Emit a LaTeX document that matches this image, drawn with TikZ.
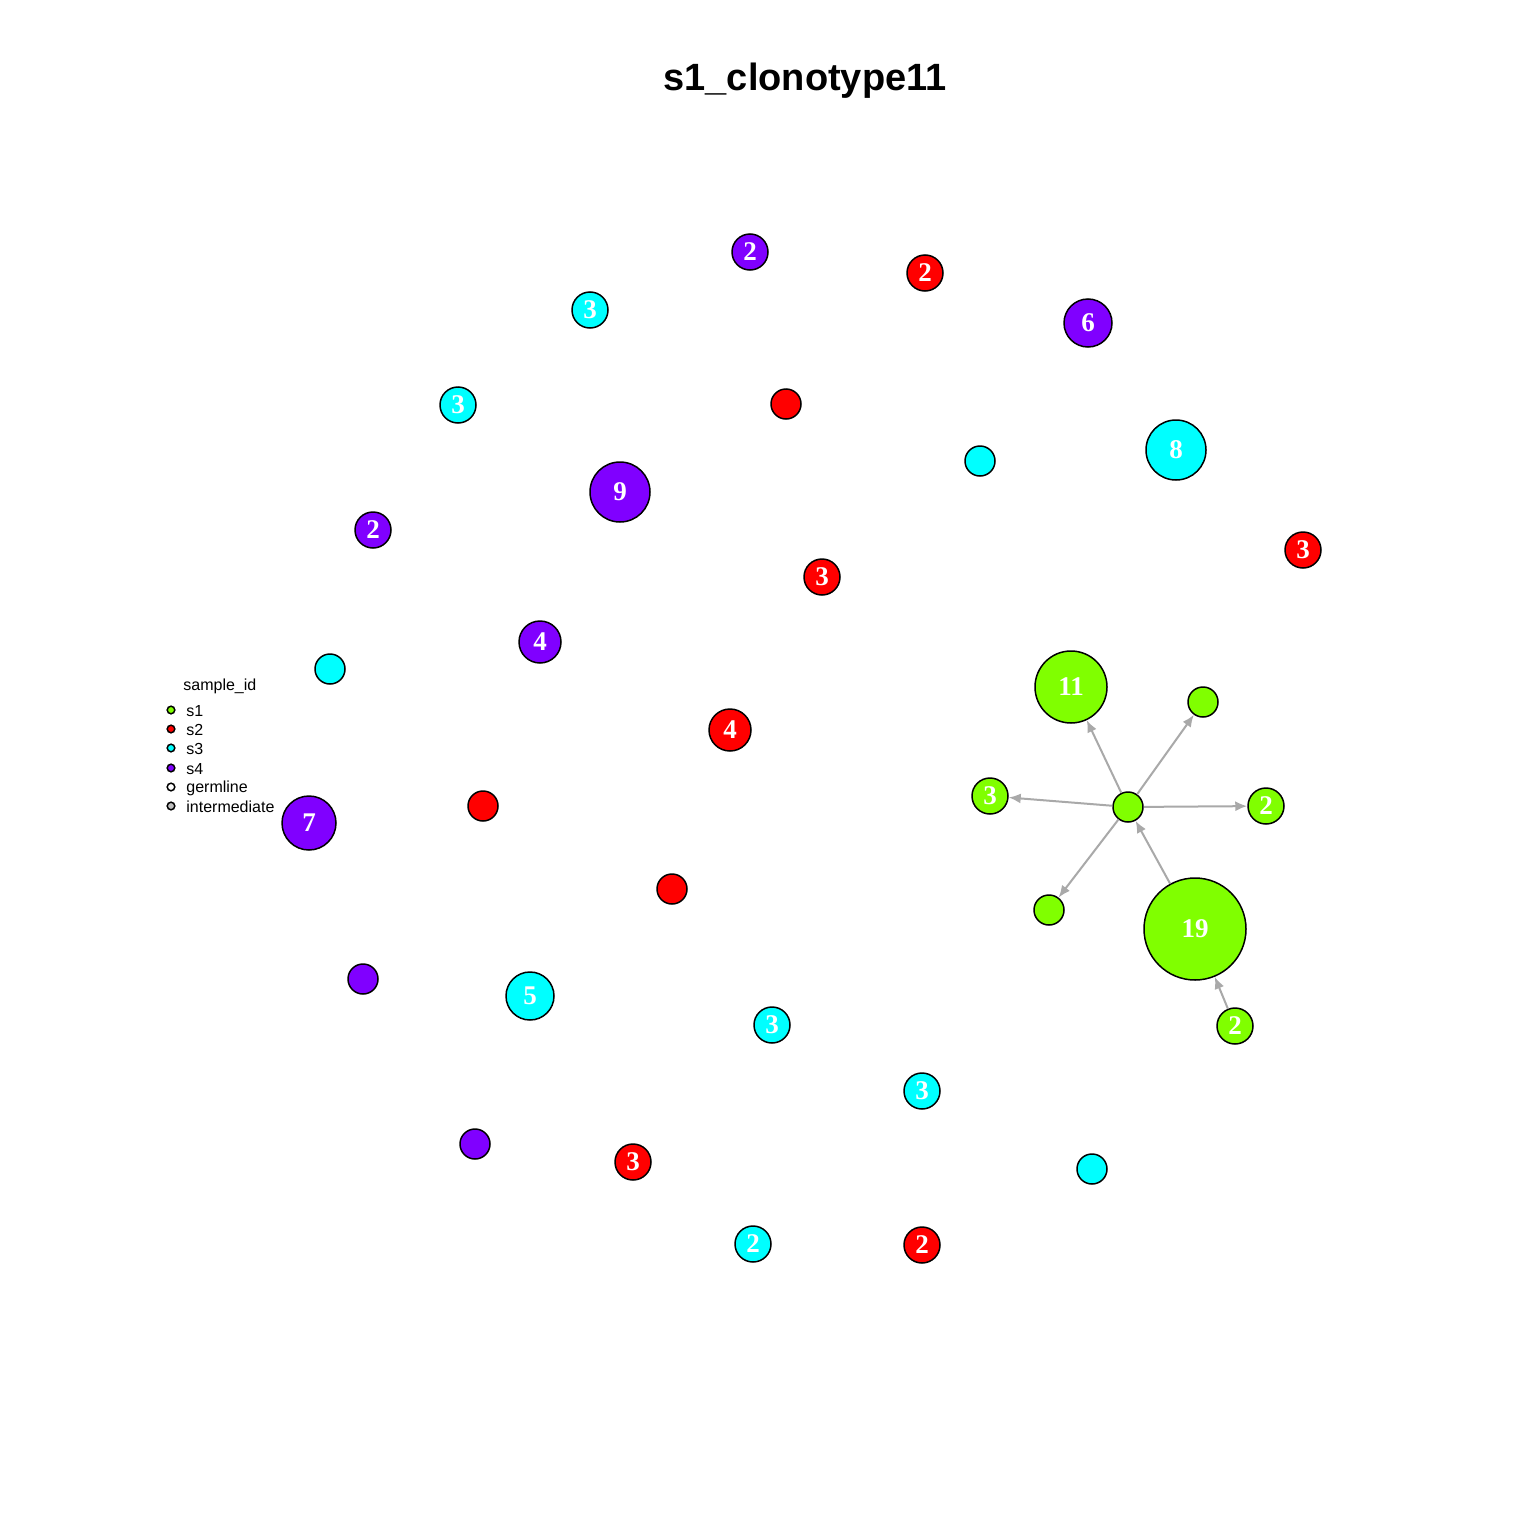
\documentclass[tikz,border=0pt]{standalone}
\usepackage{fontspec}
\setmainfont{Liberation Serif}
\newfontfamily\arialfont{Liberation Sans}
\usetikzlibrary{arrows.meta}
\definecolor{cloneA}{HTML}{80FF00}
\definecolor{cloneB}{HTML}{FF0000}
\definecolor{cloneC}{HTML}{00FFFF}
\definecolor{cloneD}{HTML}{8000FF}
\definecolor{edgegrey}{HTML}{A9A9A9}
\definecolor{midgrey}{HTML}{BEBEBE}
\begin{document}
\begin{tikzpicture}[x=0.5pt,y=-0.5pt,
  vtx/.style={circle,draw=black,line width=0.75pt,inner sep=0pt,text=white,
    font=\fontsize{13.5}{13.5}\selectfont\bfseries},
  sa/.style={vtx,fill=cloneA},
  sb/.style={vtx,fill=cloneB},
  sc/.style={vtx,fill=cloneC},
  sd/.style={vtx,fill=cloneD},
  link/.style={draw=edgegrey,line width=1pt,-{Latex[length=6pt,width=5pt]}},
  key/.style={circle,draw=black,line width=0.75pt,inner sep=0pt,minimum size=3.8pt},
  keytext/.style={anchor=west,inner sep=0pt,font=\arialfont\fontsize{8}{8}\selectfont}]
  \useasboundingbox[fill=white] (0,0) rectangle (1536,1536);
  % title
  \node[font=\arialfont\fontsize{19}{19}\selectfont\bfseries] (title) at (805,81) {s1\_clonotype11};
  % s1 cluster
  \node[sa,minimum size=15pt] (hub) at (1128,807) {};
  \node[sa,minimum size=36pt] (g11) at (1071,687) {11};
  \node[sa,minimum size=15pt] (gup) at (1203,702) {};
  \node[sa,minimum size=18pt] (g3) at (990,796) {3};
  \node[sa,minimum size=18pt] (g2r) at (1266,806) {2};
  \node[sa,minimum size=15pt] (glow) at (1049,910) {};
  \node[sa,minimum size=51pt] (g19) at (1195,929) {19};
  \node[sa,minimum size=18pt] (g2b) at (1235,1026) {2};
  \draw[link] (hub) -- (g11);
  \draw[link] (hub) -- (gup);
  \draw[link] (hub) -- (g3);
  \draw[link] (hub) -- (g2r);
  \draw[link] (hub) -- (glow);
  \draw[link] (g19) -- (hub);
  \draw[link] (g2b) -- (g19);
  % s2
  \node[sb,minimum size=18pt] (r1) at (925,273) {2};
  \node[sb,minimum size=15pt] (r2) at (786,404) {};
  \node[sb,minimum size=18pt] (r3) at (822,577) {3};
  \node[sb,minimum size=18pt] (r4) at (1303,550) {3};
  \node[sb,minimum size=21pt] (r5) at (730,730) {4};
  \node[sb,minimum size=15pt] (r6) at (483,806) {};
  \node[sb,minimum size=15pt] (r7) at (672,889) {};
  \node[sb,minimum size=18pt] (r8) at (633,1162) {3};
  \node[sb,minimum size=18pt] (r9) at (922,1245) {2};
  % s3
  \node[sc,minimum size=18pt] (c1) at (590,310) {3};
  \node[sc,minimum size=18pt] (c2) at (458,405) {3};
  \node[sc,minimum size=15pt] (c3) at (980,461) {};
  \node[sc,minimum size=30pt] (c4) at (1176,450) {8};
  \node[sc,minimum size=15pt] (c5) at (330,669) {};
  \node[sc,minimum size=24pt] (c6) at (530,996) {5};
  \node[sc,minimum size=18pt] (c7) at (772,1025) {3};
  \node[sc,minimum size=18pt] (c8) at (922,1091) {3};
  \node[sc,minimum size=15pt] (c9) at (1092,1169) {};
  \node[sc,minimum size=18pt] (c10) at (753,1244) {2};
  % s4
  \node[sd,minimum size=18pt] (p1) at (750,252) {2};
  \node[sd,minimum size=24pt] (p2) at (1088,323) {6};
  \node[sd,minimum size=30pt] (p3) at (620,492) {9};
  \node[sd,minimum size=18pt] (p4) at (373,530) {2};
  \node[sd,minimum size=21pt] (p5) at (540,642) {4};
  \node[sd,minimum size=27pt] (p6) at (309,823) {7};
  \node[sd,minimum size=15pt] (p7) at (363,979) {};
  \node[sd,minimum size=15pt] (p8) at (475,1144) {};
  % legend
  \node[keytext] (keyhead) at (183,686) {sample\_id};
  \node[key,fill=cloneA] (k1) at (171,710) {};
  \node[key,fill=cloneB] (k2) at (171,729) {};
  \node[key,fill=cloneC] (k3) at (171,748) {};
  \node[key,fill=cloneD] (k4) at (171,768) {};
  \node[key,fill=white] (k5) at (171,787) {};
  \node[key,fill=midgrey] (k6) at (171,806) {};
  \node[keytext] at (186,711) {s1};
  \node[keytext] at (186,730) {s2};
  \node[keytext] at (186,749) {s3};
  \node[keytext] at (186,769) {s4};
  \node[keytext] at (186,788) {germline};
  \node[keytext] at (186,807) {intermediate};
\end{tikzpicture}
\end{document}
